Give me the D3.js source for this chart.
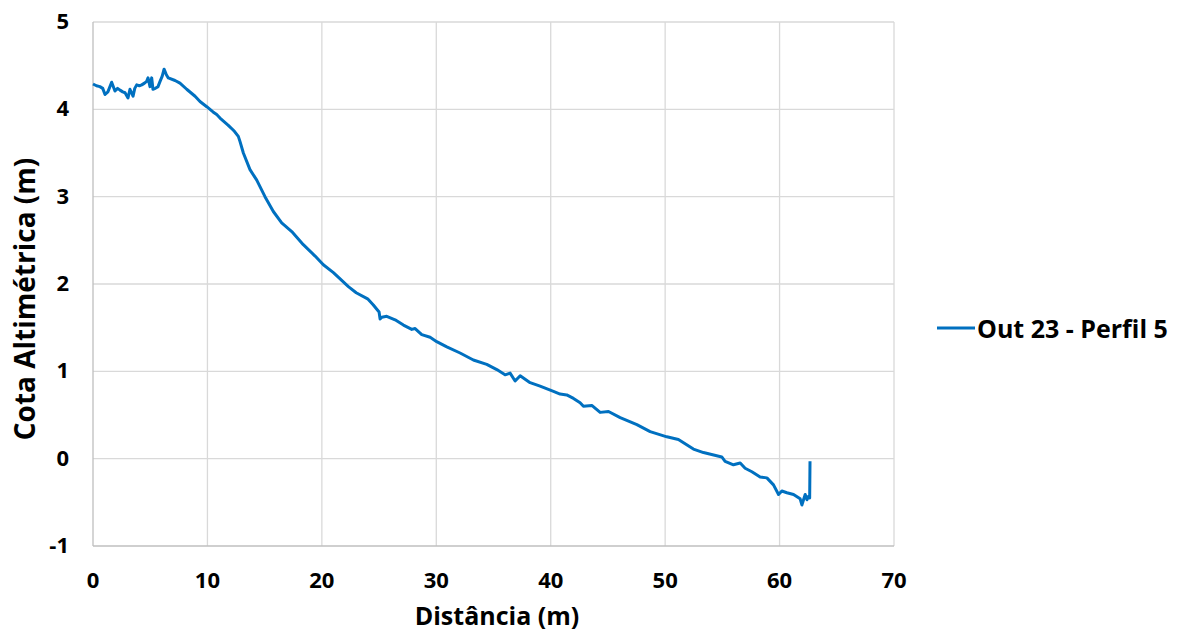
<!DOCTYPE html>
<html><head><meta charset="utf-8">
<script src="https://cdn.jsdelivr.net/npm/d3@7"></script>
<style>body{margin:0;background:#fff}svg{display:block}text{font-family:"Open Sans",sans-serif;font-weight:700;fill:#000}</style>
</head><body><svg id="c" width="1181" height="633"></svg>
<script>
const seriesName = "Out 23 - Perfil 5";
const xTicks = [0,10,20,30,40,50,60,70];
const yTicks = [-1,0,1,2,3,4,5];
const distancia = [0.0,0.3,0.6,0.85,1.05,1.3,1.63,1.92,2.15,2.36,2.6,2.8,3.06,3.23,3.5,3.65,3.82,4.05,4.26,4.5,4.69,4.81,4.98,5.13,5.24,5.45,5.68,5.86,6.05,6.21,6.4,6.58,7.17,7.6,8.19,8.92,9.35,9.94,10.49,10.81,11.1,11.8,12.27,12.41,12.7,12.85,13.14,13.72,14.31,15.03,15.76,16.49,17.37,18.38,19.41,20.13,21.01,22.32,23.0,24.0,24.5,25.0,25.09,25.24,25.67,26.4,27.13,27.86,28.15,28.73,29.46,30.04,30.92,32.08,33.24,34.41,35.29,36.01,36.45,36.89,37.33,38.2,39.07,40.24,40.82,41.4,41.99,42.57,42.86,43.59,44.32,45.05,46.07,47.53,48.69,50.15,51.16,52.47,53.35,54.95,55.24,55.97,56.56,56.99,57.58,58.3,58.89,59.47,59.91,60.2,60.64,61.22,61.8,61.95,62.24,62.4,62.54,62.63,62.66];
const cota = [4.29,4.27,4.26,4.24,4.17,4.2,4.31,4.21,4.24,4.22,4.2,4.19,4.13,4.23,4.15,4.24,4.28,4.27,4.28,4.3,4.32,4.36,4.26,4.36,4.23,4.24,4.26,4.32,4.38,4.46,4.4,4.36,4.33,4.3,4.23,4.15,4.09,4.03,3.97,3.94,3.9,3.82,3.76,3.74,3.69,3.63,3.5,3.31,3.19,3.0,2.83,2.7,2.6,2.45,2.32,2.22,2.13,1.97,1.9,1.83,1.76,1.68,1.6,1.62,1.63,1.59,1.53,1.48,1.49,1.42,1.39,1.34,1.28,1.21,1.13,1.08,1.02,0.96,0.98,0.89,0.95,0.87,0.83,0.77,0.74,0.73,0.69,0.64,0.6,0.61,0.53,0.54,0.47,0.39,0.31,0.25,0.22,0.11,0.07,0.02,-0.03,-0.07,-0.05,-0.11,-0.15,-0.21,-0.22,-0.3,-0.41,-0.37,-0.39,-0.41,-0.46,-0.53,-0.41,-0.47,-0.43,-0.45,-0.03];

const svg = d3.select("#c");
const L=93, R=894, T=22, B=546;
const x = d3.scaleLinear().domain([0,70]).range([L,R]);
const y = d3.scaleLinear().domain([-1,5]).range([B,T]);

svg.append("g").selectAll("line").data(xTicks.slice(1)).join("line")
  .attr("x1",d=>x(d)).attr("x2",d=>x(d)).attr("y1",T).attr("y2",B)
  .attr("stroke","#d9d9d9").attr("stroke-width",1.3);
svg.append("g").selectAll("line").data(yTicks.slice(1)).join("line")
  .attr("x1",L).attr("x2",R).attr("y1",d=>y(d)).attr("y2",d=>y(d))
  .attr("stroke","#d9d9d9").attr("stroke-width",1.3);
svg.append("line").attr("x1",L).attr("x2",L).attr("y1",T).attr("y2",B).attr("stroke","#bfbfbf").attr("stroke-width",1.3);
svg.append("line").attr("x1",L).attr("x2",R).attr("y1",B).attr("y2",B).attr("stroke","#bfbfbf").attr("stroke-width",1.3);

svg.append("g").selectAll("text").data(yTicks).join("text")
  .attr("x",69).attr("y",d=>y(d)+7).attr("text-anchor","end")
  .style("font-size","22px").text(d=>d);
svg.append("g").selectAll("text").data(xTicks).join("text")
  .attr("x",d=>x(d)).attr("y",588).attr("text-anchor","middle")
  .style("font-size","22px").text(d=>d);

svg.append("text").attr("x",497).attr("y",625).attr("text-anchor","middle")
  .style("font-size","25px").text("Distância (m)");
svg.append("text").attr("transform","translate(35,299) rotate(-90)").attr("text-anchor","middle")
  .style("font-size","28px").text("Cota Altimétrica (m)");

const pts = distancia.map((d,i)=>[d,cota[i]]);
svg.append("path").datum(pts)
  .attr("d", d3.line().x(d=>x(d[0])).y(d=>y(d[1])))
  .attr("fill","none").attr("stroke","#0070c0").attr("stroke-width",3).attr("stroke-linejoin","round");

svg.append("line").attr("x1",937).attr("x2",975).attr("y1",328).attr("y2",328).attr("stroke","#0070c0").attr("stroke-width",3);
svg.append("text").attr("x",977).attr("y",338).style("font-size","25px").text(seriesName);
</script></body></html>
